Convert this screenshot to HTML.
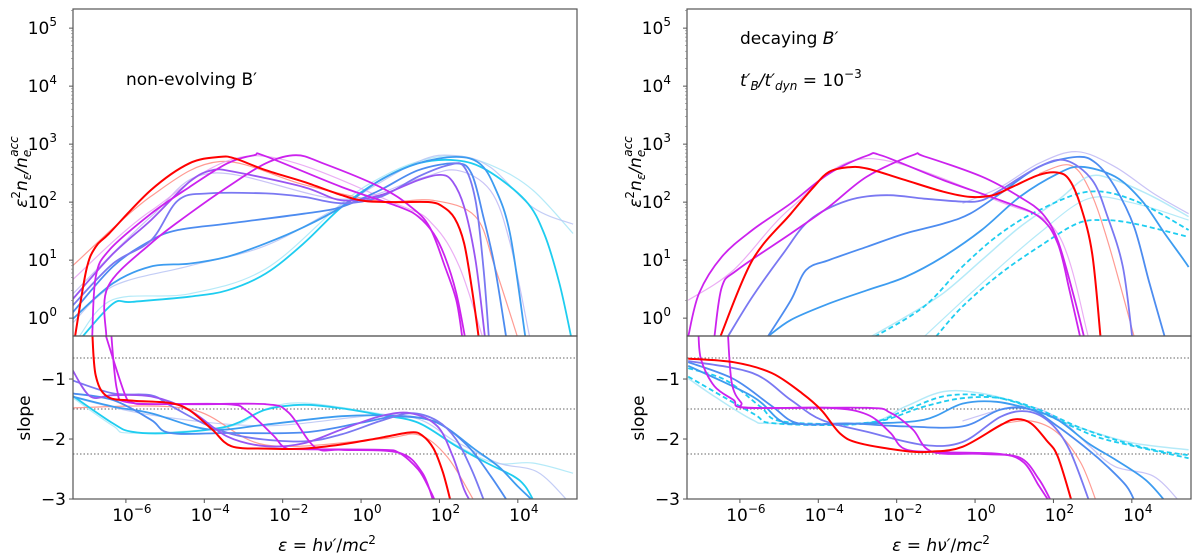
<!DOCTYPE html>
<html><head><meta charset="utf-8"><style>
html,body{margin:0;padding:0;background:#fff;}
svg{display:block;font-family:"DejaVu Sans","Liberation Sans",sans-serif;}
</style></head><body>
<svg id="fig" width="1200" height="557" viewBox="0 0 1200 557" xmlns="http://www.w3.org/2000/svg"></svg>
<script>
// ---- data: [log10(eps), log10(eps^2 n / n_acc)] ----
const xTicks=[-6,-4,-2,0,2,4];
const yTopTicks=[0,1,2,3,4,5];
const ySlopeTicks=[-1,-2,-3];
const refSlopes=[-0.65,-1.5,-2.25];

const LtRed=[[-7.3,-0.32],[-7.01,0.83],[-6.77,1.23],[-6.43,1.46],[-5.36,2.21],[-4.38,2.67],[-3.6,2.78],[-3.21,2.75],[-2.43,2.55],[-1.46,2.35],[-0.49,2.12],[0.1,2.02],[0.88,2.0],[1.75,2.0],[2.09,1.92],[2.39,1.72],[2.63,1.29],[2.82,0.54],[3.0,-0.32]];
const LtMag1=[[-6.86,-0.32],[-6.77,0.71],[-6.43,1.17],[-5.36,1.8],[-4.38,2.26],[-3.41,2.67],[-2.73,2.81],[-2.43,2.79],[-0.49,2.26],[0.97,1.92],[1.46,1.75],[1.85,1.46],[2.14,1.06],[2.43,0.43],[2.65,-0.32]];
const LtMag2=[[-6.5,-0.32],[-6.46,0.54],[-5.36,1.29],[-4.38,1.8],[-3.41,2.26],[-2.43,2.67],[-1.66,2.81],[-0.97,2.67],[0.49,2.26],[1.27,1.92],[1.75,1.57],[2.14,0.89],[2.43,0.31],[2.58,-0.32]];
const LtPurple=[[-7.38,0.31],[-6.33,1.11],[-5.36,1.69],[-4.38,2.35],[-3.8,2.55],[-3.21,2.52],[-1.46,2.26],[-0.49,2.03],[0.49,2.12],[1.46,2.38],[2.04,2.47],[2.34,2.35],[2.63,1.92],[2.92,1.0],[3.16,-0.32]];
const LtViolet=[[-7.38,0.2],[-6.33,0.94],[-5.36,1.34],[-4.67,2.03],[-3.89,2.15],[-2.43,2.15],[-1.46,2.09],[-0.49,1.98],[0.49,2.09],[1.46,2.44],[2.24,2.64],[2.63,2.61],[2.92,2.03],[3.12,0.89],[3.26,-0.32]];
const LtBlue1=[[-7.38,0.08],[-6.33,0.89],[-5.36,1.34],[-4.67,1.52],[-3.41,1.63],[-1.46,1.8],[-0.49,1.92],[0.49,2.21],[1.46,2.55],[2.43,2.67],[2.82,2.49],[3.12,1.75],[3.41,0.89],[3.7,-0.32]];
const LtBlue2=[[-7.38,-0.03],[-6.33,0.6],[-5.36,0.89],[-4.38,0.94],[-3.41,1.06],[-2.43,1.29],[-1.46,1.57],[-0.49,1.92],[0.49,2.38],[1.46,2.67],[2.43,2.78],[3.02,2.67],[3.41,2.26],[3.8,1.46],[4.19,-0.32]];
const LtCyan=[[-7.11,-0.32],[-6.33,0.25],[-5.84,0.28],[-4.38,0.37],[-3.41,0.48],[-2.43,0.77],[-1.46,1.29],[-0.49,1.92],[0.49,2.38],[1.46,2.67],[2.43,2.72],[3.21,2.55],[4.19,2.03],[4.67,1.46],[5.06,0.6],[5.36,-0.32]];
const LtPaleCyan=[[-7.2,-0.32],[-6.33,0.32],[-4.38,0.42],[-2.43,0.85],[-0.49,1.98],[0.49,2.42],[1.46,2.7],[2.43,2.8],[3.41,2.61],[4.38,2.21],[5.41,1.46]];
const LtPaleBlue=[[-7.38,-0.1],[-6.33,0.55],[-4.38,0.9],[-2.43,1.25],[-0.49,1.95],[1.46,2.7],[2.43,2.8],[3.3,2.6],[4.4,1.9],[5.41,1.62]];
const LtPaleRed=[[-7.38,0.89],[-5.36,2.1],[-3.6,2.7],[-1.46,2.3],[0.49,2.02],[1.85,2.03],[2.92,1.75],[3.41,0.89],[3.99,-0.32]];
const LtPaleLav=[[-7.38,0.4],[-5.36,1.75],[-3.8,2.5],[-0.49,2.05],[1.46,2.4],[2.43,2.55],[3.3,2.2],[3.8,1.3],[4.3,-0.32]];
const LtPaleMag=[[-7.38,0.65],[-5.36,1.85],[-2.73,2.8],[0.97,1.95],[1.85,1.6],[2.5,0.9],[3.1,-0.32]];

const LsRed=[[-6.86,-0.2],[-6.77,-0.94],[-6.48,-1.29],[-5.84,-1.36],[-4.87,-1.4],[-4.38,-1.52],[-3.8,-1.84],[-3.31,-2.12],[-2.43,-2.16],[-1.46,-2.16],[-0.49,-2.09],[0.49,-1.98],[1.27,-1.89],[1.56,-1.94],[1.85,-2.16],[2.09,-2.56],[2.29,-3.05]];
const LsMag1=[[-6.55,-0.2],[-6.04,-1.23],[-5.84,-1.39],[-5.36,-1.42],[-3.41,-1.42],[-2.92,-1.53],[-2.24,-1.94],[-1.95,-2.14],[-1.46,-2.17],[0.49,-2.18],[0.97,-2.23],[1.46,-2.51],[1.75,-2.84],[1.9,-3.05]];
const LsMag2=[[-6.38,-0.2],[-6.23,-1.17],[-5.94,-1.39],[-4.38,-1.42],[-2.43,-1.42],[-1.85,-1.56],[-1.17,-2.14],[-0.49,-2.18],[0.97,-2.23],[1.56,-2.56],[1.85,-3.05]];
const LsPurple=[[-7.38,-0.83],[-6.91,-1.29],[-6.33,-1.27],[-5.36,-1.29],[-4.38,-1.52],[-3.41,-1.96],[-2.43,-2.12],[-1.46,-2.07],[-0.49,-1.84],[0.49,-1.62],[1.27,-1.57],[1.95,-1.79],[2.34,-2.29],[2.63,-2.84],[2.8,-3.05]];
const LsViolet=[[-7.38,-1.02],[-6.33,-1.24],[-5.36,-1.27],[-4.87,-1.44],[-3.89,-1.78],[-2.92,-1.97],[-1.46,-2.04],[-0.49,-1.92],[0.49,-1.7],[1.27,-1.57],[1.95,-1.7],[2.43,-2.01],[2.82,-2.51],[3.15,-3.05]];
const LsBlue1=[[-7.38,-1.24],[-6.33,-1.35],[-5.36,-1.68],[-4.87,-1.9],[-3.41,-1.9],[-1.46,-1.89],[0,-1.73],[0.97,-1.62],[1.95,-1.73],[2.73,-2.12],[3.31,-2.62],[3.75,-3.05]];
const LsBlue2=[[-7.38,-1.29],[-6.33,-1.46],[-5.36,-1.57],[-3.89,-1.84],[-2.43,-1.76],[-0.49,-1.62],[0.97,-1.62],[1.95,-1.73],[2.92,-2.18],[3.51,-2.46],[4.0,-2.79],[4.42,-3.05]];
const LsCyan=[[-7.38,-1.27],[-6.33,-1.74],[-5.84,-1.88],[-4.87,-1.9],[-3.41,-1.79],[-2.43,-1.51],[-1.46,-1.43],[-0.49,-1.49],[0.49,-1.6],[1.46,-1.73],[2.43,-2.12],[3.21,-2.4],[3.89,-2.62],[4.19,-2.79],[4.42,-3.05]];
const LsPaleCyan=[[-7.38,-1.3],[-6.33,-1.78],[-5.84,-1.9],[-3.41,-1.8],[-2.43,-1.5],[-1.46,-1.4],[0.49,-1.58],[1.46,-1.72],[2.43,-2.1],[3.41,-2.4],[4.38,-2.4],[5.41,-2.57]];
const LsPaleBlue=[[-7.38,-1.3],[-5.36,-1.6],[-2.43,-1.78],[0.97,-1.6],[2.43,-2.05],[3.5,-2.4],[4.5,-2.55],[5.3,-3.05]];
const LsPaleRed=[[-7.38,-1.48],[-4.38,-1.5],[-2.43,-2.1],[0.49,-2.0],[1.46,-1.93],[2.2,-2.3],[2.9,-3.05]];

const RtMag1=[[-7.32,-0.32],[-7.04,0.43],[-6.46,1.06],[-5.68,1.52],[-4.7,1.98],[-3.73,2.49],[-2.76,2.8],[-2.37,2.8],[-0.81,2.38],[0.65,2.03],[1.63,1.75],[2.11,1.29],[2.41,0.48],[2.68,-0.32]];
const RtMag2=[[-6.65,-0.32],[-6.46,0.54],[-6.07,0.83],[-4.7,1.46],[-3.73,1.92],[-2.76,2.44],[-1.59,2.81],[-1.3,2.79],[0.17,2.44],[1.14,2.09],[1.72,1.8],[2.11,1.34],[2.5,0.43],[2.78,-0.32]];
const RtRed=[[-6.5,-0.32],[-5.68,1.0],[-4.7,1.8],[-4.12,2.26],[-3.73,2.52],[-3.24,2.6],[-2.76,2.58],[-1.78,2.38],[-0.81,2.18],[-0.13,2.09],[0.46,2.12],[0.94,2.26],[1.63,2.47],[2.11,2.51],[2.41,2.38],[2.7,1.92],[2.99,1.11],[3.2,-0.32]];
const RtPurple=[[-6.31,-0.32],[-5.68,0.37],[-4.9,1.11],[-4.22,1.69],[-3.24,2.03],[-2.27,2.12],[-1.3,2.06],[-0.32,2.01],[0.17,2.03],[0.65,2.21],[1.63,2.61],[2.31,2.72],[2.99,2.38],[3.38,1.75],[3.77,0.89],[4.01,-0.32]];
const RtViolet=[[-5.29,-0.32],[-4.7,0.31],[-4.31,0.83],[-3.73,1.0],[-2.76,1.23],[-1.78,1.46],[-0.81,1.63],[-0.13,1.8],[0.65,2.15],[1.63,2.61],[2.6,2.78],[3.09,2.67],[3.57,2.26],[4.06,1.57],[4.45,0.6],[4.84,-0.32]];
const RtBlue=[[-5.29,-0.32],[-4.7,-0.03],[-3.73,0.25],[-2.76,0.48],[-1.78,0.71],[-0.81,1.06],[0.17,1.52],[1.14,2.09],[2.11,2.49],[2.7,2.61],[3.57,2.44],[4.25,2.03],[4.84,1.46],[5.33,1.0],[5.45,0.88]];
const RtLightCyan=[[-2.66,-0.32],[-1.78,0.02],[-0.81,0.43],[0.17,1.0],[1.14,1.57],[2.11,2.03],[2.89,2.44],[3.57,2.38],[4.55,2.09],[5.45,1.75]];
const RtDash1=[[-2.56,-0.32],[-1.3,0.2],[-0.32,0.89],[0.65,1.46],[1.63,1.86],[2.89,2.18],[4.06,2.03],[5.45,1.52]];
const RtDash2=[[-1.0,-0.32],[-0.32,0.2],[0.65,0.77],[1.63,1.23],[2.6,1.63],[3.28,1.69],[4.06,1.63],[5.45,1.4]];
const RtPaleCyan=[[-1.3,-0.32],[0.17,0.6],[1.63,1.46],[2.89,2.06],[4.06,1.98],[5.45,1.69]];
const RtPaleLav=[[-0.32,1.98],[0.65,2.26],[1.63,2.67],[2.6,2.87],[3.57,2.61],[4.55,2.15],[5.45,1.8]];
const RtPaleRed=[[1.63,2.49],[2.41,2.64],[2.89,2.26],[3.38,1.34],[4.06,-0.32]];
const RtPaleMag=[[-7.32,0.31],[-6.16,0.83],[-4.7,1.9],[-2.76,2.75],[0.65,2.0],[2.11,1.46],[2.89,-0.32]];

const RsRed=[[-7.32,-0.66],[-6.16,-0.72],[-5.19,-0.9],[-4.41,-1.24],[-3.92,-1.52],[-3.44,-1.91],[-2.95,-2.07],[-1.78,-2.2],[-1.1,-2.21],[-0.32,-2.13],[0.65,-1.77],[1.04,-1.67],[1.43,-1.74],[1.82,-2.02],[2.11,-2.29],[2.47,-3.05]];
const RsMag1=[[-7.06,-0.2],[-6.99,-0.68],[-6.65,-1.12],[-6.16,-1.35],[-5.87,-1.48],[-3.73,-1.48],[-2.76,-1.59],[-2.17,-1.89],[-1.78,-2.17],[-0.81,-2.22],[0.65,-2.25],[1.24,-2.39],[1.63,-2.78],[1.9,-3.05]];
const RsMag2=[[-6.31,-0.2],[-6.21,-1.06],[-5.97,-1.39],[-5.68,-1.48],[-2.76,-1.48],[-2.17,-1.56],[-1.59,-1.84],[-1.1,-2.21],[0.17,-2.25],[1.14,-2.31],[1.63,-2.67],[1.95,-3.05]];
const RsPurple=[[-7.32,-0.7],[-5.68,-0.9],[-4.7,-1.35],[-3.92,-1.68],[-2.76,-1.88],[-1.3,-2.1],[-0.32,-2.05],[0.65,-1.63],[1.33,-1.54],[1.92,-1.73],[2.41,-2.18],[2.92,-3.05]];
const RsViolet=[[-7.32,-0.72],[-6.16,-1.0],[-5.19,-1.45],[-4.51,-1.74],[-3.24,-1.74],[-1.78,-1.79],[-0.32,-1.79],[0.65,-1.51],[1.43,-1.51],[2.11,-1.79],[2.89,-2.18],[3.38,-2.46],[3.87,-2.79],[4.08,-3.05]];
const RsBlue=[[-7.32,-0.78],[-5.68,-1.29],[-5.0,-1.68],[-4.51,-1.75],[-2.76,-1.74],[-1.3,-1.68],[-0.32,-1.41],[0.55,-1.38],[1.43,-1.51],[2.11,-1.68],[2.89,-2.07],[3.57,-2.34],[4.35,-2.68],[4.87,-3.05]];
const RsLightCyan=[[-7.32,-0.99],[-6.65,-1.29],[-5.68,-1.68],[-5.19,-1.74],[-2.76,-1.73],[-1.78,-1.46],[-0.81,-1.21],[0.17,-1.24],[1.14,-1.41],[2.11,-1.68],[3.09,-1.9],[4.06,-2.07],[5.45,-2.18]];
const RsDash1=[[-7.32,-0.82],[-6.36,-1.02],[-5.48,-1.46],[-4.9,-1.71],[-2.76,-1.73],[-1.78,-1.52],[-0.81,-1.29],[0.17,-1.27],[1.14,-1.41],[2.11,-1.68],[3.09,-1.96],[4.06,-2.12],[5.45,-2.32]];
const RsDash2=[[-7.32,-0.96],[-5.68,-1.57],[-5.1,-1.74],[-2.76,-1.74],[-1.3,-1.46],[-0.32,-1.32],[0.65,-1.32],[1.63,-1.51],[2.6,-1.79],[3.57,-2.01],[4.55,-2.18],[5.45,-2.27]];
const RsPaleLav=[[-0.32,-1.7],[1.14,-1.45],[2.11,-1.65],[2.89,-2.1],[3.57,-2.46],[4.55,-2.62],[5.23,-3.05]];
const RsPaleRed=[[0.65,-1.75],[1.43,-1.7],[2.11,-1.9],[2.7,-2.4],[3.1,-3.05]];

// ---- layout ----
const NS="http://www.w3.org/2000/svg";
const svg=document.getElementById('fig');
const XMIN=-7.35,XMAX=5.51,TOP=9,MID=336,BOT=499;
const panels=[{x0:73,x1:577,side:'left'},{x0:687,x1:1191,side:'right'}];
function mk(tag,attrs,parent){const e=document.createElementNS(NS,tag);for(const k in attrs)e.setAttribute(k,attrs[k]);(parent||svg).appendChild(e);return e;}
function yTop(v){return TOP+(5.33-v)*58;}
function ySl(v){return MID+(-0.283-v)*60;}
function smooth(P){
  if(P.length<3)return P.map((p,i)=>(i?'L':'M')+p[0].toFixed(1)+','+p[1].toFixed(1)).join('');
  let d='M'+P[0][0].toFixed(1)+','+P[0][1].toFixed(1);
  for(let i=0;i<P.length-1;i++){
    const p0=P[i-1]||P[i],p1=P[i],p2=P[i+1],p3=P[i+2]||P[i+1];
    const t=1/6;
    const c1=[p1[0]+(p2[0]-p0[0])*t,p1[1]+(p2[1]-p0[1])*t];
    const c2=[p2[0]-(p3[0]-p1[0])*t,p2[1]-(p3[1]-p1[1])*t];
    d+='C'+c1[0].toFixed(1)+','+c1[1].toFixed(1)+' '+c2[0].toFixed(1)+','+c2[1].toFixed(1)+' '+p2[0].toFixed(1)+','+p2[1].toFixed(1);
  }
  return d;
}

const C={red:'#ff0000',mag:'#cc22ee',purple:'#9955f2',violet:'#7a78f2',blue:'#4d8cf0',blue2:'#3d9cf0',cyan:'#1ecdf0',paleCyan:'#a8e6f7',paleBlue:'#b8c4f5',paleRed:'#ff8a80',paleLav:'#c0b8f5',paleMag:'#e8a0f2'};

const series={
left:{top:[[LtPaleCyan,'paleCyan',1.2,0],[LtPaleBlue,'paleBlue',1.2,0],[LtPaleRed,'paleRed',1.2,0],[LtPaleLav,'paleLav',1.2,0],[LtPaleMag,'paleMag',1.2,0],[LtCyan,'cyan',1.8,0],[LtBlue2,'blue2',1.8,0],[LtBlue1,'blue',1.8,0],[LtViolet,'violet',1.8,0],[LtPurple,'purple',1.8,0],[LtMag2,'mag',1.8,0],[LtMag1,'mag',1.8,0],[LtRed,'red',2,0]],
 slope:[[LsPaleCyan,'paleCyan',1.2,0],[LsPaleBlue,'paleBlue',1.2,0],[LsPaleRed,'paleRed',1.2,0],[LsCyan,'cyan',1.8,0],[LsBlue2,'blue2',1.8,0],[LsBlue1,'blue',1.8,0],[LsViolet,'violet',1.8,0],[LsPurple,'purple',1.8,0],[LsMag2,'mag',1.8,0],[LsMag1,'mag',1.8,0],[LsRed,'red',2,0]]},
right:{top:[[RtPaleCyan,'paleCyan',1.2,0],[RtPaleLav,'paleLav',1.2,0],[RtPaleRed,'paleRed',1.2,0],[RtPaleMag,'paleMag',1.2,0],[RtLightCyan,'paleCyan',1.5,0],[RtDash1,'cyan',1.8,1],[RtDash2,'cyan',1.8,1],[RtBlue,'blue2',1.8,0],[RtViolet,'blue',1.8,0],[RtPurple,'violet',1.8,0],[RtMag2,'mag',1.8,0],[RtMag1,'mag',1.8,0],[RtRed,'red',2,0]],
 slope:[[RsPaleLav,'paleLav',1.2,0],[RsPaleRed,'paleRed',1.2,0],[RsLightCyan,'paleCyan',1.5,0],[RsDash1,'cyan',1.8,1],[RsDash2,'cyan',1.8,1],[RsBlue,'blue2',1.8,0],[RsViolet,'blue',1.8,0],[RsPurple,'violet',1.8,0],[RsMag2,'mag',1.8,0],[RsMag1,'mag',1.8,0],[RsRed,'red',2,0]]}
};

function supLabel(parent,x,y,base,exp,anchor){
  const t=mk('text',{x:x,y:y,'font-size':17,'text-anchor':anchor,fill:'#000'},parent);
  
  
  t.appendChild(document.createTextNode(base));
  const s=mk('tspan',{dy:-8,'font-size':12},t);
  s.textContent=exp;
  return t;
}

panels.forEach((p,pi)=>{
  const xs=v=>p.x0+(v-XMIN)/(XMAX-XMIN)*(p.x1-p.x0);
  const g=mk('g',{});
  
  
  const defs=mk('defs',{},g);
  const cp1=mk('clipPath',{id:'ct'+pi},defs);mk('rect',{x:p.x0,y:TOP,width:p.x1-p.x0,height:MID-TOP},cp1);
  const cp2=mk('clipPath',{id:'cs'+pi},defs);mk('rect',{x:p.x0,y:MID,width:p.x1-p.x0,height:BOT-MID},cp2);
  refSlopes.forEach(r=>{
    const l=mk('line',{x1:p.x0,x2:p.x1,y1:ySl(r),y2:ySl(r),stroke:'#666','stroke-width':1,'stroke-dasharray':'1.5,2'},g);
    
    
  });
  ['top','slope'].forEach(kind=>{
    const gg=mk('g',{'clip-path':'url(#'+(kind==='top'?'ct':'cs')+pi+')'},g);
    
    
    const ys=kind==='top'?yTop:ySl;
    series[p.side][kind].forEach((s,si)=>{
      const pts=s[0].map(pt=>[xs(pt[0]),ys(pt[1])]);
      const path=mk('path',{d:smooth(pts),fill:'none',stroke:C[s[1]],'stroke-width':s[2],'stroke-linejoin':'round'},gg);
      if(s[3])path.setAttribute('stroke-dasharray','5,3');
      if(s[1].startsWith('pale'))path.setAttribute('opacity','0.85');
      
      
    });
  });
  const f1=mk('rect',{x:p.x0,y:TOP,width:p.x1-p.x0,height:MID-TOP,fill:'none',stroke:'#555','stroke-width':1.2},g);
  
  
  const f2=mk('rect',{x:p.x0,y:MID,width:p.x1-p.x0,height:BOT-MID,fill:'none',stroke:'#555','stroke-width':1.2},g);
  
  
  xTicks.forEach(t=>{
    const x=xs(t);
    mk('line',{x1:x,x2:x,y1:BOT,y2:BOT+4,stroke:'#555'},g);
    supLabel(g,x+6,521,'10',t<0?'\u2212'+(-t):String(t),'middle');
  });
  yTopTicks.forEach(t=>{
    const y=yTop(t);
    mk('line',{x1:p.x0-4,x2:p.x0,y1:y,y2:y,stroke:'#555'},g);
    for(let m=2;m<10;m++){const ym=yTop(t+Math.log10(m));if(ym>TOP&&ym<MID)mk('line',{x1:p.x0-2,x2:p.x0,y1:ym,y2:ym,stroke:'#777','stroke-width':0.6},g);}
    supLabel(g,p.x0-16,y+6,'10',String(t),'end');
  });
  ySlopeTicks.forEach(t=>{
    const y=ySl(t);
    mk('line',{x1:p.x0-4,x2:p.x0,y1:y,y2:y,stroke:'#555'},g);
    const tl=mk('text',{x:p.x0-7,y:y+6,'font-size':17,'text-anchor':'end'},g);
    tl.textContent='\u2212'+(-t);
    
    
  });
  const xl=mk('text',{x:(p.x0+p.x1)/2+2,y:551,'font-size':17,'text-anchor':'middle'},g);
  
  
  xl.innerHTML='<tspan font-style="italic">ε</tspan> = <tspan font-style="italic">hν′</tspan>/<tspan font-style="italic">mc</tspan><tspan dy="-7" font-size="12">2</tspan>';
  const yl=mk('text',{transform:'translate('+(p.x0-46)+',172) rotate(-90)','font-size':17,'text-anchor':'middle'},g);
  
  
  yl.innerHTML='<tspan font-style="italic">ε</tspan><tspan dy="-7" font-size="12">2</tspan><tspan dy="7" font-style="italic">n</tspan><tspan dy="4" font-size="12" font-style="italic">ε</tspan><tspan dy="-4" font-style="italic">/n</tspan><tspan dy="4" font-size="12" font-style="italic">e</tspan><tspan dx="-7" dy="-13" font-size="12" font-style="italic">acc</tspan>';
  const sl=mk('text',{transform:'translate('+(p.x0-43)+',418) rotate(-90)','font-size':17,'text-anchor':'middle'},g);
  sl.textContent='slope';
  
  
});

const a1=mk('text',{x:126,y:85,'font-size':17});
a1.textContent='non-evolving B\u2032';


const a2=mk('text',{x:740,y:44,'font-size':17});
a2.innerHTML='decaying  <tspan font-style="italic">B′</tspan>';


const a3=mk('text',{x:740,y:86,'font-size':17});
a3.innerHTML='<tspan font-style="italic">t′</tspan><tspan dy="4" font-size="12" font-style="italic">B</tspan><tspan dy="-4" font-style="italic">/t′</tspan><tspan dy="4" font-size="12" font-style="italic">dyn</tspan><tspan dy="-4"> = 10</tspan><tspan dy="-8" font-size="12">−3</tspan>';


</script>
</body></html>
